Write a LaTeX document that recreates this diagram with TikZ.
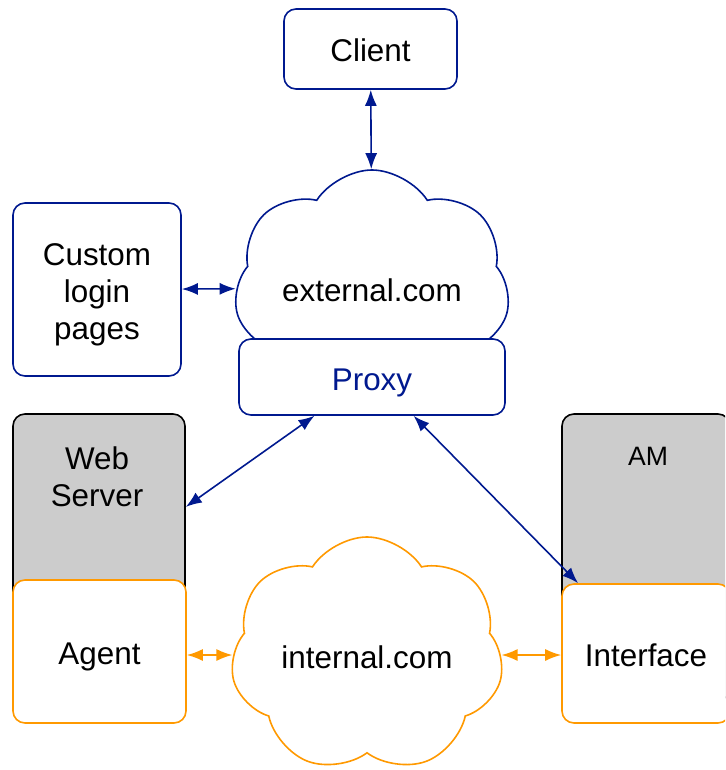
\documentclass[tikz,border=0pt]{standalone}
\usepackage{fontspec}
\setmainfont{Liberation Sans}
\usetikzlibrary{shapes.symbols,arrows.meta}

\definecolor{netblue}{RGB}{0,25,143}
\definecolor{netorange}{RGB}{255,153,0}
\definecolor{hostgray}{RGB}{204,204,204}

\tikzset{
  mainfont/.style={font=\fontsize{15.7}{18.3}\selectfont},
  bluebox/.style={draw=netblue, fill=white, rounded corners=6pt, line width=0.8pt, mainfont, align=center, text height=13pt, text depth=0pt},
  orangebox/.style={draw=netorange, fill=white, rounded corners=6pt, line width=0.8pt, mainfont, align=center, text height=13pt, text depth=0pt},
  hostbox/.style={draw=black, fill=hostgray, rounded corners=6pt, line width=0.8pt},
  netcloud/.style={cloud, cloud puffs=7, cloud puff arc=115, cloud ignores aspect, fill=white, line width=0.8pt, mainfont, text height=13pt, text depth=0pt},
  bluearrow/.style={<->, draw=netblue, line width=0.8pt},
  orangearrow/.style={<->, draw=netorange, line width=0.8pt}
}

\begin{document}
\begin{tikzpicture}[x=0.5pt,y=-0.5pt,>={Latex[length=8pt,width=6pt]}]
\useasboundingbox (0,0) rectangle (725,770);
\clip (0,0) rectangle (725,770);

  %% hosts
  \node[hostbox, minimum width=86pt, minimum height=143pt] (webserver) at (99,557) {};
  \node[hostbox, minimum width=84pt, minimum height=143pt] (am) at (646,557) {};
  \node[mainfont, align=center] (webtxt) at (97,477) {Web\\Server};
  \node[font=\fontsize{13.3}{16}\selectfont] (amtxt) at (648,456) {AM};

  %% outside
  \node[bluebox, minimum width=86.5pt, minimum height=40pt] (client) at (370.5,49) {Client};
  \node[bluebox, text height=49.6pt, minimum width=84pt, minimum height=86.5pt] (custom) at (97,289.5) {Custom\\login\\pages};
  \node[netcloud, draw=netblue, minimum width=138pt, minimum height=118pt] (external) at (372,288) {external.com};
  \node[bluebox, text=netblue, minimum width=133pt, minimum height=38pt] (proxy) at (372,377) {Proxy};

  %% inside
  \node[orangebox, minimum width=86.5pt, minimum height=71.5pt] (agent) at (99.5,651.5) {Agent};
  \node[orangebox, minimum width=84pt, minimum height=69.5pt] (iface) at (646,653.5) {Interface};
  \node[netcloud, draw=netorange, minimum width=136.5pt, minimum height=118pt] (internal) at (367,655) {internal.com};

  %% links
  \draw[bluearrow] (client) -- (external);
  \draw[bluearrow] (custom) -- (external);
  \draw[bluearrow] (proxy.214) -- (webserver.30);
  \draw[bluearrow] (proxy.-43) -- (iface.134);
  \draw[orangearrow] (agent.east |- internal) -- (internal.west);
  \draw[orangearrow] (internal.east) -- (iface.west |- internal);

\end{tikzpicture}
\end{document}
